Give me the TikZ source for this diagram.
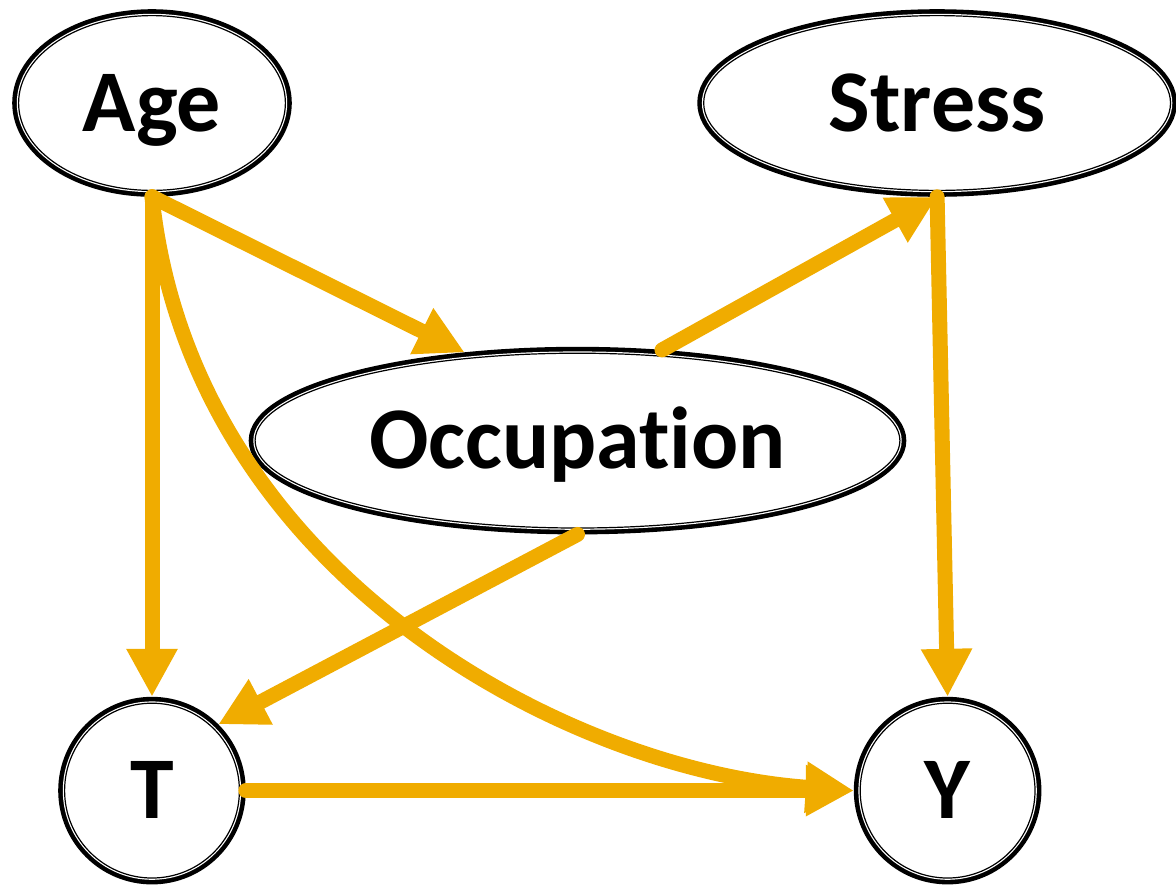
\documentclass[tikz,border=0pt]{standalone}
\usepackage{fontspec}
\setmainfont{Carlito}[RawFeature={-liga;-clig;-calt;-dlig}]
\usepackage{tikz}
\usetikzlibrary{arrows.meta, positioning, shapes.geometric}
\definecolor{edgeorange}{RGB}{240,172,0}

\begin{document}
\begin{tikzpicture}[
    node distance=250pt and 300pt,
    % node styles
    var/.style={draw=black, line width=6.4pt, outer sep=3.2pt, inner sep=0pt,
        postaction={fill=white}, postaction={draw=white, line width=1.8pt},
        postaction={draw=black, line width=0.6pt},
        font=\fontsize{44}{50}\selectfont\bfseries, text height=28pt, text depth=0pt},
    latent/.style={var, ellipse, minimum height=87.4pt},
    observed/.style={var, circle, minimum size=87.4pt},
    arrow/.style={-{Triangle[length=24pt, width=24pt]}, line width=7.5pt, edgeorange, line cap=round}
]
\useasboundingbox (-76pt,51.5pt) rectangle (512pt,-391pt);

% top row
\node[latent, minimum width=133.4pt] (age) {Age};
\node[latent, minimum width=233.4pt, right=202.75pt of age] (stress) {Stress};

% middle
\node[latent, minimum width=322.4pt, below=75pt of age, xshift=212.75pt] (occ) {Occupat\kern0pt ion};

% bottom row
\node[observed, below=250pt of age] (t) {T};
\node[observed, right=304pt of t] (y) {Y};

% edges
\draw[arrow] (age.south) -- (t.north);
\draw[arrow] (age.south) -- (occ.142);
\draw[arrow] (age.south) to[out=-84, in=176, out distance=189pt, in distance=144pt] (y.west);
\draw[arrow] (occ.47) -- (stress.south);
\draw[arrow] (occ.south) -- (t.north east);
\draw[arrow] (stress.south) -- (y.north);
\draw[arrow] (t.east) -- (y.west);

\end{tikzpicture}
\end{document}
